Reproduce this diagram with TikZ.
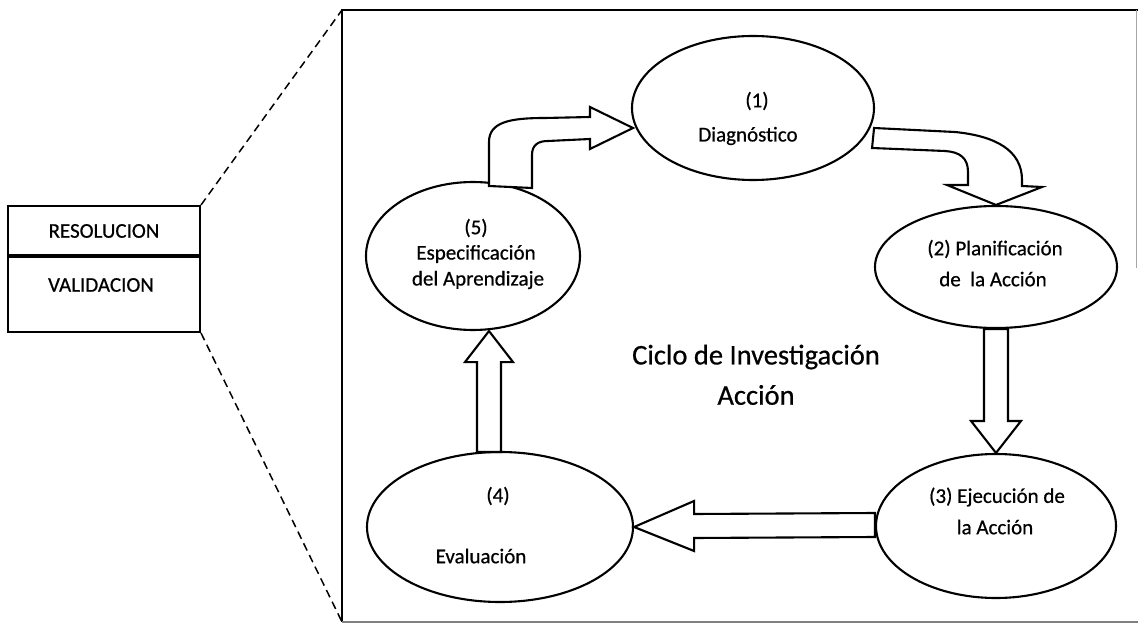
\documentclass[tikz,border=0pt]{standalone}
\usepackage{fontspec}
\setmainfont{Carlito}[FakeBold=0.6]
\usetikzlibrary{shapes.geometric,calc}
\begin{document}
\begin{tikzpicture}[x=1pt,y=-1pt,
  stage/.style={draw, line width=2.1pt, ellipse, inner sep=0pt},
  lbl/.style={font=\fontsize{21}{24}\selectfont, inner sep=0pt},
  title/.style={font=\fontsize{28.5}{32}\selectfont, inner sep=0pt},
  blockarrow/.style={draw, fill=white, line width=2.1pt, line join=miter},
  zoomline/.style={dash pattern=on 8pt off 5pt, line width=1.5pt}]
\useasboundingbox (0,0) rectangle (1138,628);

% frame of the enlarged view
\coordinate (ftl) at (342,10);
\coordinate (fbl) at (342,622);
\coordinate (ftr) at (1138,10);
\coordinate (fbr) at (1138,622);
\coordinate (frr) at (1136,268);
\draw[line width=2.4pt] (ftr) -- (ftl) -- (fbl);
\draw[line width=1.2pt, gray] (fbl) -- (fbr);
\draw[line width=0.8pt, gray!70] (1136,10) -- (frr);

% small two-part box on the left
\node[draw, line width=2pt, minimum width=192pt, minimum height=126pt, inner sep=0pt] (box) at (104,269) {};
\draw[line width=3.8pt] ($(box.north west)+(0,51)$) -- ($(box.north east)+(0,51)$);
\node[lbl] (res) at (104,231) {RESOLUCION};
\node[lbl] (val) at (101,285) {VALIDACION};

% dashed zoom lines
\draw[zoomline] (box.north east) -- (ftl);
\draw[zoomline] (box.south east) -- (fbl);

% the five stages
\node[stage, minimum width=242pt, minimum height=144pt] (e1) at (753,108) {};
\node[stage, minimum width=242pt, minimum height=122pt] (e2) at (996,267) {};
\node[stage, minimum width=240pt, minimum height=144pt] (e3) at (996,526) {};
\node[stage, minimum width=266pt, minimum height=150pt] (e4) at (500,527) {};
\node[stage, minimum width=214pt, minimum height=148pt] (e5) at (473,256) {};

\node[lbl] (t1a) at (757,101) {(1)};
\node[lbl] (t1b) at (748,136) {Diagnóstico};
\node[lbl] (t2a) at (995,249) {(2) Planificación};
\node[lbl] (t2b) at (993,279) {de \ la Acción};
\node[lbl] (t3a) at (997,497) {(3) Ejecución de};
\node[lbl] (t3b) at (995,527) {la Acción};
\node[lbl] (t4a) at (498,496) {(4)};
\node[lbl] (t4b) at (481,556) {Evaluación};
\node[lbl] (t5a) at (476,228) {(5)};
\node[lbl] (t5b) at (476,254) {Especificación};
\node[lbl] (t5c) at (478,280) {del Aprendizaje};

\node[title] (ca) at (756,357) {Ciclo de Investigación};
\node[title] (cb) at (756,395) {Acción};

% curved arrow from (5) to (1)
\coordinate (a51t) at (633,128);
\draw[blockarrow] (489,186) -- (489,142)
  .. controls (489,122) and (510,118) .. (545,118) -- (590,117) -- (590,107)
  -- (a51t) -- (590,149) -- (590,139) -- (548,141)
  .. controls (538,141) and (532,145) .. (532,155) -- (532,188) -- cycle;

% curved arrow from (1) to (2)
\draw[blockarrow] ($(e1.east)+(-1,20)$) -- (955,132)
  .. controls (995,136) and (1022,150) .. (1022,180) -- (1022,186) -- (1042,187)
  -- (e2.north) -- (947,185) -- (968,185) -- (968,172)
  .. controls (968,158) and (960,152) .. (945,151) -- ($(e1.east)+(-3,40)$) -- cycle;

% straight arrow from (2) to (3)
\draw[blockarrow] ($(e2.south)+(-12,0)$) -- ($(e3.north)+(-12,-32)$) -- ($(e3.north)+(-25,-32)$)
  -- (e3.north) -- ($(e3.north)+(25,-32)$) -- ($(e3.north)+(12,-32)$) -- ($(e2.south)+(12,0)$) -- cycle;

% straight arrow from (3) to (4)
\draw[blockarrow] ($(e3.west)+(0,-13)$) -- ($(e4.east)+(60,-13)$) -- ($(e4.east)+(60,-26)$)
  -- (e4.east) -- ($(e4.east)+(60,24)$) -- ($(e4.east)+(60,11)$) -- ($(e3.west)+(0,11)$) -- cycle;

% straight arrow from (4) to (5)
\coordinate (a45s) at ($(e4.north)+(-11,1)$);
\coordinate (a45t) at ($(e5.south)+(16,0)$);
\draw[blockarrow] ($(a45s)+(-12,0)$) -- ($(a45t)+(-12,31)$) -- ($(a45t)+(-24,31)$)
  -- (a45t) -- ($(a45t)+(24,31)$) -- ($(a45t)+(12,31)$) -- ($(a45s)+(12,0)$) -- cycle;
\end{tikzpicture}
\end{document}
